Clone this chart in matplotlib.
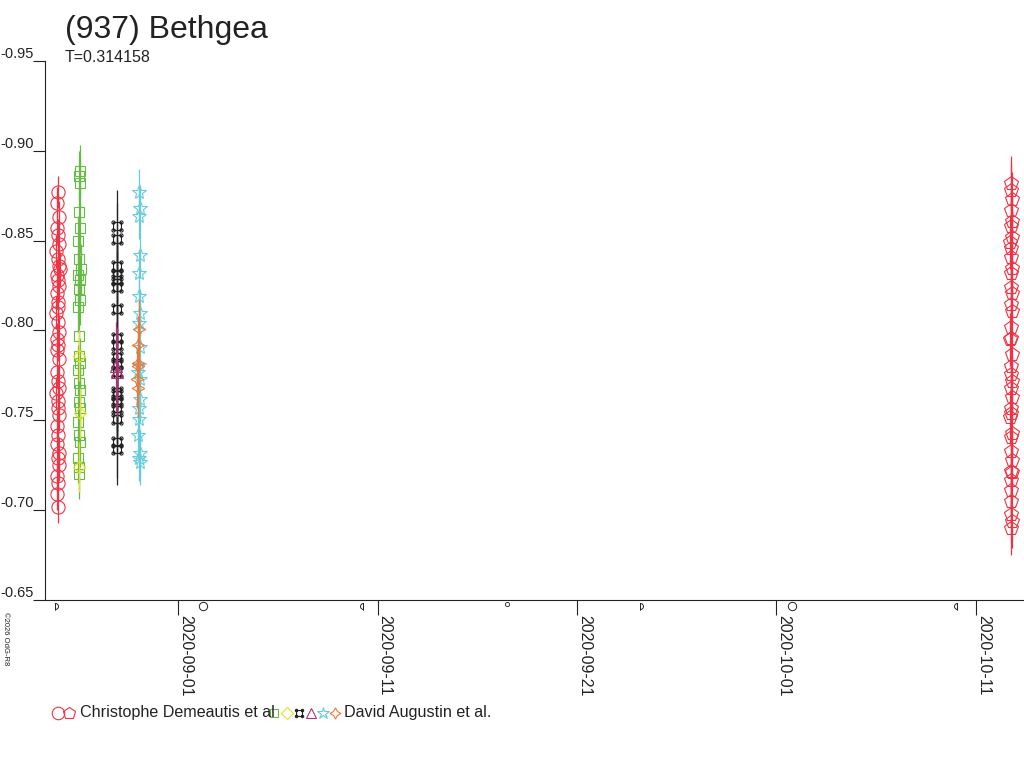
import datetime
import matplotlib
matplotlib.use("Agg")
import matplotlib.pyplot as plt
import matplotlib.dates as mdates
from matplotlib.path import Path
from matplotlib.transforms import Affine2D
import numpy as np

plt.rcParams['font.family'] = ['Liberation Sans', 'DejaVu Sans']

# Days relative to 2020-09-01 00:00 UT, magnitudes (inverted axis)
red_circ_t = [-6.02, -6.05, -5.98, -6.08, -6.01, -5.96, -6.10, -6.03, -5.99, -5.94,
              -6.07, -6.02, -5.97, -6.09, -6.04, -6.00, -6.11, -6.03, -5.96, -6.06,
              -6.01, -6.05, -5.98, -6.08, -6.03, -5.95, -6.10, -6.01, -6.04, -5.97,
              -6.06, -6.02, -6.09, -5.99, -6.04, -5.96, -6.05, -6.01, -6.07, -6.03]
red_circ_mag = [-0.877, -0.871, -0.863, -0.857, -0.853, -0.848, -0.844, -0.840, -0.836, -0.834,
                -0.831, -0.828, -0.825, -0.821, -0.816, -0.813, -0.810, -0.805, -0.799, -0.795,
                -0.792, -0.789, -0.784, -0.777, -0.772, -0.768, -0.765, -0.761, -0.757, -0.753,
                -0.747, -0.742, -0.737, -0.732, -0.729, -0.725, -0.719, -0.715, -0.709, -0.702]
red_circ_err = 0.009

green_t = [-4.92, -4.95, -4.90, -4.98, -4.94, -5.02, -4.96, -4.88, -5.00, -4.93,
           -4.97, -4.91, -5.03, -4.95, -4.99, -4.92, -5.01, -4.96, -4.90, -4.98,
           -4.94, -5.02, -4.97, -4.93, -5.00, -4.95, -4.99]
green_mag = [-0.889, -0.886, -0.882, -0.866, -0.857, -0.850, -0.840, -0.834, -0.831, -0.828,
             -0.823, -0.817, -0.813, -0.797, -0.786, -0.782, -0.778, -0.771, -0.767, -0.760,
             -0.757, -0.749, -0.742, -0.738, -0.729, -0.724, -0.720]
green_err = 0.014

yellow_t = [-4.97, -4.91, -4.99]
yellow_mag = [-0.786, -0.754, -0.724]
yellow_err = 0.014

black_t = [-3.06, -3.06, -3.05, -3.07, -3.06, -3.05, -3.06, -3.07, -3.06, -3.05,
           -3.06, -3.07, -3.06, -3.05, -3.06, -3.06, -3.05, -3.06, -3.06]
black_mag = [-0.858, -0.851, -0.836, -0.831, -0.828, -0.824, -0.812, -0.796, -0.792, -0.785,
             -0.782, -0.777, -0.766, -0.764, -0.760, -0.757, -0.751, -0.738, -0.734]
black_err = 0.02

magenta_t = [-3.09, -3.08]
magenta_mag = [-0.780, -0.777]
magenta_err = 0.025

cyan_t = [-1.95, -1.93, -1.97, -1.90, -1.94, -1.98, -1.92, -1.96, -1.89, -1.95,
          -1.99, -1.93, -1.91, -1.97, -1.94, -2.00, -1.92, -1.96, -1.90]
cyan_mag = [-0.877, -0.868, -0.864, -0.842, -0.832, -0.819, -0.810, -0.804, -0.791, -0.781,
            -0.777, -0.773, -0.762, -0.757, -0.751, -0.742, -0.732, -0.729, -0.727]
cyan_err = 0.013

orange_t = [-1.97, -1.99, -2.02, -2.00, -2.04, -2.01]
orange_mag = [-0.801, -0.792, -0.782, -0.780, -0.773, -0.768]
orange_err = 0.016

pent_t = [41.78, 41.75, 41.80, 41.74, 41.79, 41.76, 41.81, 41.73, 41.78, 41.75,
          41.80, 41.77, 41.74, 41.79, 41.76, 41.82, 41.75, 41.78, 41.73, 41.80,
          41.77, 41.74, 41.79, 41.76, 41.81, 41.75, 41.78, 41.73, 41.80, 41.77,
          41.74, 41.79, 41.76, 41.81, 41.75, 41.78, 41.77, 41.74, 41.79, 41.76]
pent_mag = [-0.882, -0.878, -0.873, -0.867, -0.861, -0.858, -0.852, -0.849, -0.846, -0.841,
            -0.835, -0.832, -0.824, -0.821, -0.815, -0.811, -0.802, -0.796, -0.795, -0.787,
            -0.780, -0.776, -0.772, -0.768, -0.763, -0.757, -0.754, -0.752, -0.743, -0.741,
            -0.733, -0.728, -0.722, -0.721, -0.717, -0.711, -0.705, -0.698, -0.694, -0.690]
pent_err = 0.015

# moon phases: days relative to 2020-09-01 and symbol type
moon_t = [-6.15, 1.25, 9.27, 16.5, 23.16, 30.8, 39.05]
moon_kind = ['fq', 'full', 'lq', 'new', 'fq', 'full', 'lq']

tick_dates = ['2020-09-01', '2020-09-11', '2020-09-21', '2020-10-01', '2020-10-11']
ytick_vals = [-0.95, -0.90, -0.85, -0.80, -0.75, -0.70, -0.65]

RED = '#ee3344'
GREEN = '#66bb44'
YELLOW = '#e6e020'
BLACK = '#222222'
MAGENTA = '#aa3377'
CYAN = '#66ccdd'
ORANGE = '#ee7733'

base = mdates.date2num(datetime.datetime(2020, 9, 1))


def dn(days):
    return [base + d for d in days]


# "place of interest" marker: small square with a loop on each corner
sq = Path.unit_rectangle().transformed(Affine2D().translate(-0.5, -0.5).scale(0.9))
loops = [Path.circle((cx * 0.45, cy * 0.45), 0.18) for cx in (-1, 1) for cy in (-1, 1)]
POI = Path.make_compound_path(sq, *loops)

fig = plt.figure(figsize=(10.24, 7.68), dpi=100)
W, H = 1024.0, 768.0
ax = fig.add_axes([45 / W, 168 / H, 979 / W, 539 / H])

series = [
    (red_circ_t, red_circ_mag, red_circ_err, 'o', RED, 9.5),
    (green_t, green_mag, green_err, 's', GREEN, 7),
    (yellow_t, yellow_mag, yellow_err, 'D', YELLOW, 6.5),
    (black_t, black_mag, black_err, POI, BLACK, 8),
    (magenta_t, magenta_mag, magenta_err, '^', MAGENTA, 8),
    (cyan_t, cyan_mag, cyan_err, '*', CYAN, 10),
    (orange_t, orange_mag, orange_err, (4, 1, 0), ORANGE, 9),
    (pent_t, pent_mag, pent_err, 'p', RED, 10.5),
]

for t, mag, err, mk, col, ms in series:
    ax.errorbar(dn(t), mag, yerr=err, fmt='none', ecolor=col, elinewidth=0.9, capsize=0)
    ax.plot(dn(t), mag, linestyle='none', marker=mk, mfc='none', mec=col, mew=0.8, ms=ms)

ax.set_xlim(base - 6.67, base + 42.41)
ax.set_ylim(-0.65, -0.95)

ax.set_yticks(ytick_vals)
ax.set_yticklabels(['%.2f' % v for v in ytick_vals])
ax.tick_params(axis='y', direction='out', length=9, width=0.8, pad=-1, labelsize=10.5, colors='#222222')
for lab in ax.get_yticklabels():
    lab.set_verticalalignment('bottom')

xt = [mdates.date2num(datetime.datetime.strptime(d, '%Y-%m-%d')) for d in tick_dates]
ax.set_xticks(xt)
ax.set_xticklabels(tick_dates)
ax.tick_params(axis='x', direction='out', length=11, width=0.8, pad=0, labelsize=11.5, colors='#222222')
for lab in ax.get_xticklabels():
    lab.set_rotation(270)
    lab.set_horizontalalignment('left')
    lab.set_verticalalignment('top')

for s in ['top', 'right']:
    ax.spines[s].set_visible(False)
for s in ['left', 'bottom']:
    ax.spines[s].set_linewidth(0.8)
    ax.spines[s].set_color('#222222')

# moon phase symbols just below the axis
half = np.linspace(-np.pi / 2, np.pi / 2, 20)
fq_path = Path(np.column_stack([np.r_[0, np.cos(half), 0, 0], np.r_[-1, np.sin(half), 1, -1.4]]))
lq_path = Path(np.column_stack([np.r_[0, -np.cos(half), 0, 0], np.r_[-1, np.sin(half), 1, -1.4]]))
mtrans = ax.get_xaxis_transform()
for t, kind in zip(moon_t, moon_kind):
    if kind == 'fq':
        ax.plot(base + t, -0.012, marker=fq_path, ms=6, mfc='none', mec=BLACK, mew=0.7,
                transform=mtrans, clip_on=False)
    elif kind == 'lq':
        ax.plot(base + t, -0.012, marker=lq_path, ms=6, mfc='none', mec=BLACK, mew=0.7,
                transform=mtrans, clip_on=False)
    elif kind == 'full':
        ax.plot(base + t, -0.012, marker='o', ms=6, mfc='none', mec=BLACK, mew=0.7,
                transform=mtrans, clip_on=False)
    else:
        ax.plot(base + t, -0.008, marker='o', ms=3, mfc='none', mec=BLACK, mew=0.6,
                transform=mtrans, clip_on=False)

# titles
fig.text(65 / W, 1 - 30 / H, '(937) Bethgea', fontsize=23, color='#222222', va='center', ha='left')
fig.text(65 / W, 1 - 58 / H, 'T=0.314158', fontsize=11.5, color='#222222', va='center', ha='left')
fig.text(5 / W, 1 - 612 / H, '\u00a92026 OdG-R8', fontsize=5.5, color='#222222', rotation=270,
         ha='center', va='top')

# legend drawn by hand
ly = 1 - 713 / H
leg1 = [('o', RED, 9), ('p', RED, 9)]
leg1_x = [58, 69]
for (mk, col, ms), x in zip(leg1, leg1_x):
    fig.lines.append(plt.Line2D([x / W], [ly], marker=mk, mfc='none', mec=col, mew=0.8, ms=ms,
                                transform=fig.transFigure))
fig.text(80 / W, ly, 'Christophe Demeautis et al', fontsize=11.6, color='#222222', va='center')
leg2 = [('s', GREEN, 6), ('D', YELLOW, 6), (POI, BLACK, 6), ('^', MAGENTA, 7),
        ('*', CYAN, 9), ((4, 1, 0), ORANGE, 8)]
leg2_x = [274, 287, 299, 311, 323, 335]
for (mk, col, ms), x in zip(leg2, leg2_x):
    fig.lines.append(plt.Line2D([x / W], [ly], marker=mk, mfc='none', mec=col, mew=0.8, ms=ms,
                                transform=fig.transFigure))
fig.text(344 / W, ly, 'David Augustin et al.', fontsize=11.6, color='#222222', va='center')

fig.savefig('out.png', dpi=100)
